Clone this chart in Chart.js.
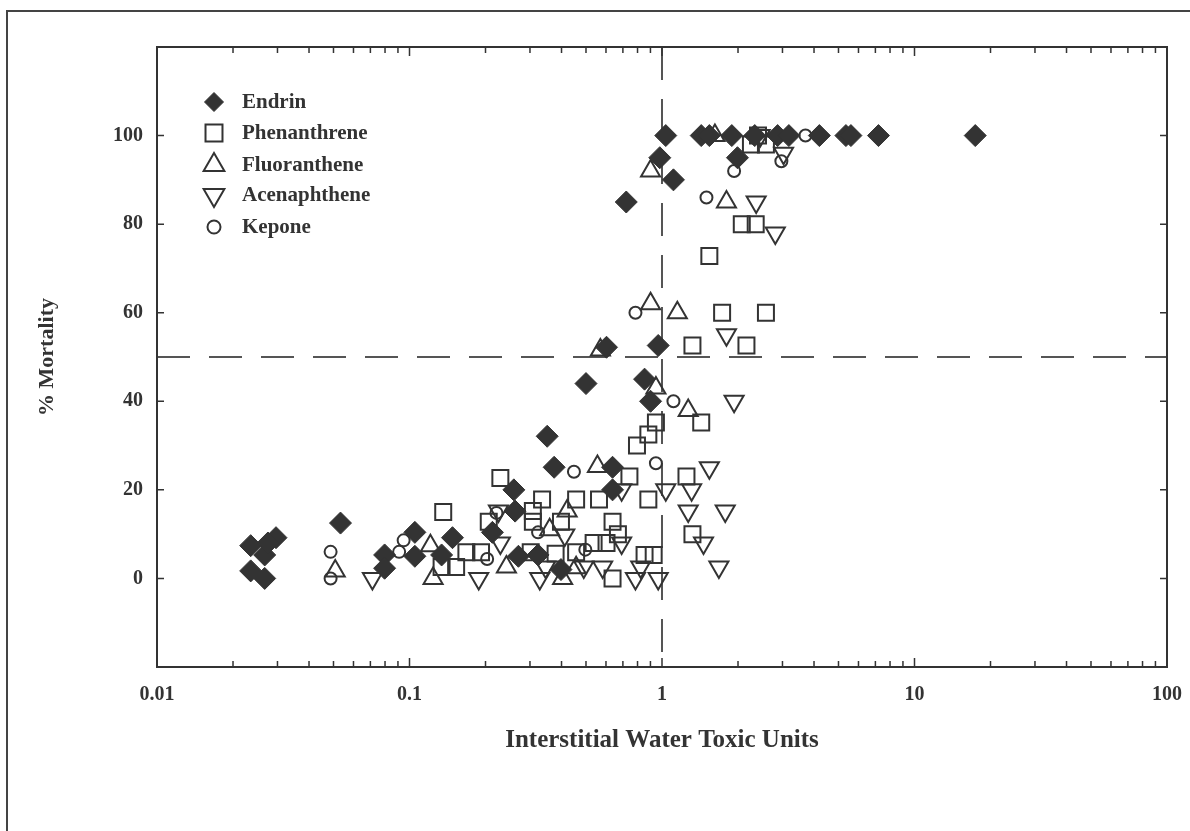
<!DOCTYPE html>
<html>
<head>
<meta charset="utf-8">
<script src="https://cdn.jsdelivr.net/npm/chart.js@4/dist/chart.umd.min.js"></script>
<style>
  html, body { margin: 0; padding: 0; background: #fff; }
  canvas { display: block; }
</style>
</head>
<body>
<canvas id="chart" width="1190" height="831"></canvas>
<script>
// Series values (x = toxic units, y = % mortality)
const endrinX = [0.0235, 0.0235, 0.0267, 0.0267, 0.0296, 0.0275, 0.0533, 0.0797, 0.0797, 0.105, 0.105, 0.134, 0.148,
  0.213, 0.259, 0.262, 0.27, 0.323, 0.351, 0.374, 0.398, 0.5, 0.603, 0.637, 0.637, 0.722, 0.853, 0.901, 0.966, 0.98,
  1.035, 1.11, 1.43, 1.54, 1.89, 1.99, 2.33, 2.87, 3.18, 4.2, 5.35, 5.6, 7.2, 17.4];
const endrinY = [7.4, 1.7, 0, 5.3, 9.2, 8, 12.5, 5.3, 2.3, 10.4, 5, 5.3, 9.2,
  10.4, 20, 15.2, 5, 5.3, 32.1, 25.1, 2, 44, 52.2, 25.1, 20, 85, 45, 40, 52.6, 95,
  100, 90, 100, 100, 100, 95, 100, 100, 100, 100, 100, 100, 100, 100];

const phenX = [0.136, 0.134, 0.153, 0.168, 0.192, 0.206, 0.229, 0.308, 0.308, 0.335, 0.302, 0.379, 0.398, 0.457,
  0.457, 0.536, 0.563, 0.603, 0.637, 0.637, 0.669, 0.743, 0.796, 0.883, 0.946, 0.883, 0.853, 0.927, 1.25, 1.32,
  1.32, 1.43, 1.54, 1.73, 2.07, 2.35, 2.16, 2.58, 2.25, 2.58, 2.4];
const phenY = [15, 2.6, 2.6, 5.9, 5.9, 12.8, 22.7, 15.2, 12.8, 17.8, 5.9, 5.6, 12.8, 17.8,
  5.9, 8, 17.8, 8, 12.8, 0, 10, 23, 30, 32.5, 35.2, 17.8, 5.3, 5.3, 23, 10,
  52.6, 35.2, 72.8, 60, 80, 80, 52.6, 60, 98, 98, 100];

const fluorX = [0.0508, 0.121, 0.124, 0.242, 0.359, 0.404, 0.421, 0.457, 0.555, 0.57, 0.901, 0.901, 0.946, 1.15,
  1.27, 1.8, 1.62];
const fluorY = [1.7, 7.4, 0, 2.6, 11, 0, 15.2, 2.4, 25.3, 51.6, 92, 62, 43, 60,
  37.9, 85, 100];

const acenX = [0.0713, 0.188, 0.225, 0.229, 0.328, 0.346, 0.412, 0.49, 0.582, 0.692, 0.692, 0.785, 0.824, 0.966,
  1.035, 1.27, 1.31, 1.46, 1.54, 1.68, 1.78, 1.8, 1.93, 2.36, 2.81, 3.03, 2.45];
const acenY = [0, 0, 15.2, 8, 0, 2.6, 9.8, 2.6, 2.6, 20, 8, 0, 2.6, 0,
  20, 15.2, 20, 8, 25, 2.6, 15.2, 55, 40, 85, 78, 96, 100];

const keponeX = [0.0487, 0.0487, 0.091, 0.0948, 0.221, 0.203, 0.323, 0.448, 0.497, 0.785, 0.946, 1.11, 1.5, 1.93,
  2.97, 3.7];
const keponeY = [6, 0, 6, 8.6, 14.8, 4.4, 10.4, 24.1, 6.5, 60, 26, 40, 86, 92,
  94.2, 100];

const seriesNames = ['Endrin', 'Phenanthrene', 'Fluoranthene', 'Acenaphthene', 'Kepone'];
const xTickValues = [0.01, 0.1, 1, 10, 100];
const xTickLabels = ['0.01', '0.1', '1', '10', '100'];
const yTickValues = [0, 20, 40, 60, 80, 100];

const ink = '#333333';
const FONT = '"Liberation Serif", "Times New Roman", serif';

function pairs(xs, ys) {
  return xs.map((x, i) => ({ x: x, y: ys[i] }));
}

const datasets = [
  { label: seriesNames[0], data: pairs(endrinX, endrinY), pointStyle: 'rectRot', pointRadius: 11,
    backgroundColor: ink, borderColor: ink, borderWidth: 1 },
  { label: seriesNames[1], data: pairs(phenX, phenY), pointStyle: 'rect', pointRadius: 11.3,
    backgroundColor: 'rgba(0,0,0,0)', borderColor: ink, borderWidth: 2 },
  { label: seriesNames[2], data: pairs(fluorX, fluorY), pointStyle: 'triangle', pointRadius: 11,
    backgroundColor: 'rgba(0,0,0,0)', borderColor: ink, borderWidth: 2 },
  { label: seriesNames[3], data: pairs(acenX, acenY), pointStyle: 'triangle', pointRotation: 180, pointRadius: 11,
    backgroundColor: 'rgba(0,0,0,0)', borderColor: ink, borderWidth: 2 },
  { label: seriesNames[4], data: pairs(keponeX, keponeY), pointStyle: 'circle', pointRadius: 6,
    backgroundColor: 'rgba(0,0,0,0)', borderColor: ink, borderWidth: 2 }
];

// frame, inside ticks, 50% / 1 TU reference lines and the legend
const decorations = {
  id: 'decorations',
  beforeDatasetsDraw(chart) {
    const { ctx, chartArea: a, scales: { x, y } } = chart;
    ctx.save();
    ctx.strokeStyle = '#555';
    ctx.lineWidth = 2;
    ctx.setLineDash([33, 19]);
    const px = x.getPixelForValue(1);
    ctx.beginPath();
    ctx.moveTo(px, a.top);
    ctx.lineTo(px, a.bottom);
    ctx.stroke();
    const py = y.getPixelForValue(50);
    ctx.beginPath();
    ctx.moveTo(a.left, py);
    ctx.lineTo(a.right, py);
    ctx.stroke();
    ctx.restore();
  },
  afterDraw(chart) {
    const { ctx, chartArea: a, scales: { x, y } } = chart;
    ctx.save();
    // outer figure border (only top and left show in the crop)
    ctx.strokeStyle = '#444';
    ctx.lineWidth = 2;
    ctx.beginPath();
    ctx.moveTo(7, chart.height);
    ctx.lineTo(7, 11);
    ctx.lineTo(chart.width, 11);
    ctx.stroke();

    // plot frame
    ctx.strokeStyle = ink;
    ctx.lineWidth = 2;
    ctx.strokeRect(a.left, a.top, a.right - a.left, a.bottom - a.top);

    // log ticks on top and bottom, pointing inward
    ctx.lineWidth = 1.5;
    ctx.beginPath();
    for (let d = 0.01; d < 100; d *= 10) {
      for (let m = 1; m <= 9; m++) {
        const v = d * m;
        const p = x.getPixelForValue(v);
        const len = m === 1 ? 9 : 6;
        ctx.moveTo(p, a.bottom); ctx.lineTo(p, a.bottom - len);
        ctx.moveTo(p, a.top); ctx.lineTo(p, a.top + len);
      }
    }
    yTickValues.forEach(v => {
      const p = y.getPixelForValue(v);
      ctx.moveTo(a.left, p); ctx.lineTo(a.left + 7, p);
      ctx.moveTo(a.right, p); ctx.lineTo(a.right - 7, p);
    });
    ctx.stroke();

    // legend
    const rowY = [102, 133, 165, 195, 227];
    chart.data.datasets.forEach((ds, i) => {
      ctx.save();
      ctx.fillStyle = ds.backgroundColor;
      ctx.strokeStyle = ds.borderColor;
      ctx.lineWidth = ds.borderWidth;
      const r = ds.pointStyle === 'circle' ? 6.5 : (ds.pointStyle === 'rectRot' ? 9.5 : 12);
      Chart.helpers.drawPoint(ctx, { pointStyle: ds.pointStyle, rotation: ds.pointRotation || 0,
        radius: r, borderWidth: ds.borderWidth }, 214, rowY[i]);
      ctx.restore();
      ctx.fillStyle = ink;
      ctx.font = 'bold 21px ' + FONT;
      ctx.textBaseline = 'middle';
      ctx.fillText(ds.label, 242, rowY[i] + 1);
    });
    ctx.restore();
  }
};

new Chart(document.getElementById('chart').getContext('2d'), {
  type: 'scatter',
  data: { datasets: datasets },
  options: {
    responsive: false,
    animation: false,
    layout: { padding: { top: 47, right: 23, left: 0, bottom: 0 } },
    plugins: {
      legend: { display: false },
      tooltip: { enabled: false }
    },
    scales: {
      x: {
        type: 'logarithmic',
        min: 0.01,
        max: 100,
        grid: { display: false, drawTicks: false, tickLength: 0 },
        border: { display: false },
        afterBuildTicks: s => { s.ticks = xTickValues.map(v => ({ value: v })); },
        afterFit: s => { s.height = 164; s.paddingLeft = 0; s.paddingRight = 0; },
        ticks: {
          autoSkip: false,
          maxRotation: 0,
          padding: 16,
          color: ink,
          font: { family: FONT, size: 20, weight: 'bold' },
          callback: v => xTickLabels[xTickValues.indexOf(v)]
        },
        title: {
          display: true,
          text: 'Interstitial Water Toxic Units',
          color: ink,
          font: { family: FONT, size: 25, weight: 'bold', lineHeight: 1 },
          padding: { top: 0, bottom: 78 }
        }
      },
      y: {
        min: -20,
        max: 120,
        grid: { display: false, drawTicks: false, tickLength: 0 },
        border: { display: false },
        afterBuildTicks: s => { s.ticks = yTickValues.map(v => ({ value: v })); },
        afterFit: s => { s.width = 157; s.paddingTop = 0; s.paddingBottom = 0; },
        ticks: {
          padding: 14,
          color: ink,
          font: { family: FONT, size: 20, weight: 'bold' }
        },
        title: {
          display: true,
          text: '% Mortality',
          color: ink,
          font: { family: FONT, size: 22, weight: 'bold', lineHeight: 1 },
          padding: { top: 36, bottom: 0 }
        }
      }
    }
  },
  plugins: [decorations]
});
</script>
</body>
</html>
